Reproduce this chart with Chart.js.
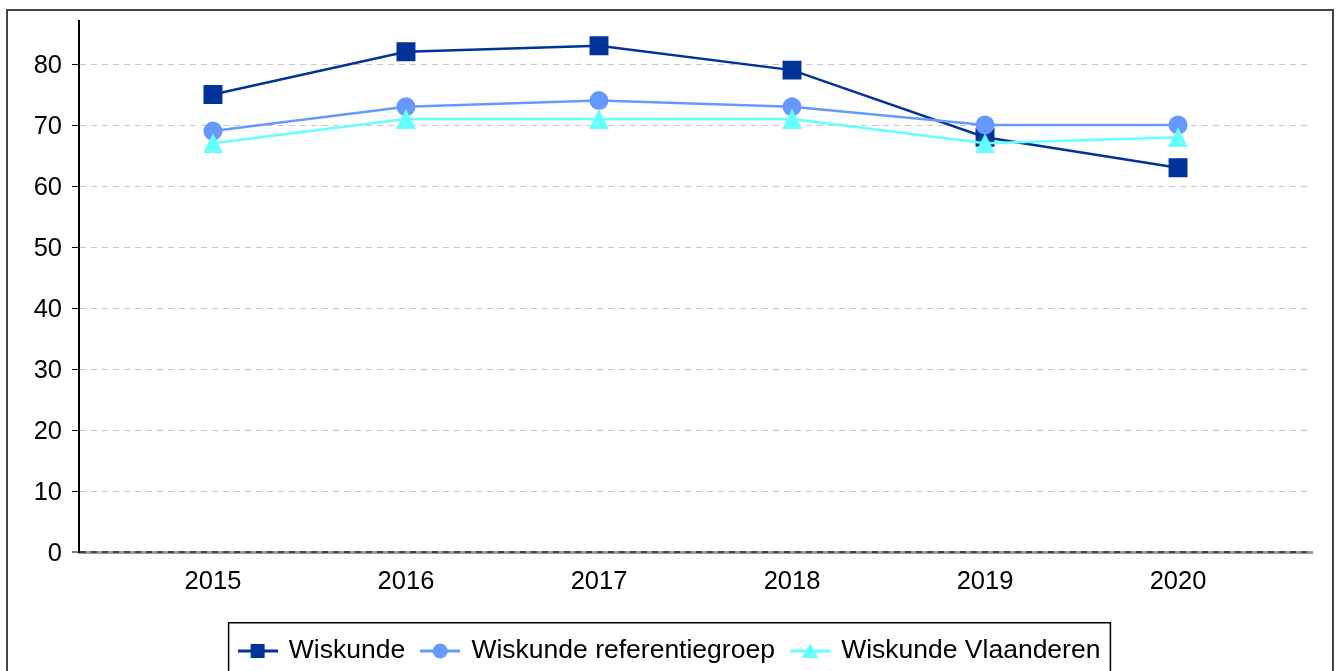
<!DOCTYPE html>
<html>
<head>
<meta charset="utf-8">
<script src="https://cdn.jsdelivr.net/npm/chart.js@4/dist/chart.umd.min.js"></script>
<style>
  html, body { margin: 0; padding: 0; background: #fff; }
  canvas { display: block; }
</style>
</head>
<body>
<canvas id="chart" width="1340" height="671"></canvas>
<script>
// data
const years = [2015, 2016, 2017, 2018, 2019, 2020];
const wiskunde = [75, 82, 83, 79, 68, 63];
const referentiegroep = [69, 73, 74, 73, 70, 70];
const vlaanderen = [67, 71, 71, 71, 67, 68];
const yTicks = [0, 10, 20, 30, 40, 50, 60, 70, 80];
const seriesNames = ['Wiskunde', 'Wiskunde referentiegroep', 'Wiskunde Vlaanderen'];

const colors = ['#003399', '#6699ff', '#66ffff'];
const FONT = '"Liberation Sans", Arial, sans-serif';

// small canvas for the triangle so it sits centred on the point
function triangle(w, h, color) {
    const c = document.createElement('canvas');
    c.width = w; c.height = h;
    const g = c.getContext('2d');
    g.fillStyle = color;
    g.beginPath();
    g.moveTo(w / 2, 0);
    g.lineTo(w, h);
    g.lineTo(0, h);
    g.closePath();
    g.fill();
    return c;
}

// legend icons: line with the marker on it
function legendIcon(kind, color) {
    const c = document.createElement('canvas');
    c.width = 40; c.height = 20;
    const g = c.getContext('2d');
    g.strokeStyle = color;
    g.fillStyle = color;
    g.lineWidth = 3;
    g.beginPath();
    g.moveTo(0, 10);
    g.lineTo(40, 10);
    g.stroke();
    g.beginPath();
    if (kind === 'rect') {
        g.rect(13, 3, 14, 14);
    } else if (kind === 'circle') {
        g.arc(20, 10, 7.5, 0, Math.PI * 2);
    } else {
        g.moveTo(20, 2);
        g.lineTo(28.5, 17);
        g.lineTo(11.5, 17);
        g.closePath();
    }
    g.fill();
    return c;
}

const icons = [
    legendIcon('rect', colors[0]),
    legendIcon('circle', colors[1]),
    legendIcon('triangle', colors[2])
];

function points(values) {
    return values.map((v, i) => ({ x: years[i], y: v }));
}

const frame = {
    id: 'frame',
    beforeInit(chart) {
        const fit = chart.legend.fit;
        chart.legend.fit = function () {
            fit.call(this);
            this.height -= 3.25;
        };
    },
    afterDraw(chart) {
        const ctx = chart.ctx;
        ctx.save();
        // outer border
        ctx.strokeStyle = '#444';
        ctx.lineWidth = 2;
        ctx.strokeRect(7, 10, 1326, 700);
        // legend box
        const hb = chart.legend.legendHitBoxes;
        if (hb && hb.length) {
            const last = hb[hb.length - 1];
            const left = hb[0].left - 11;
            const right = last.left + last.width + 10;
            const top = hb[0].top - 15;
            ctx.strokeStyle = '#000';
            ctx.lineWidth = 1.5;
            ctx.strokeRect(left, top, right - left, 100);
        }
        ctx.restore();
    }
};

new Chart(document.getElementById('chart'), {
    type: 'line',
    data: {
        datasets: [
            {
                label: seriesNames[0],
                data: points(wiskunde),
                borderColor: colors[0],
                backgroundColor: colors[0],
                borderWidth: 2.5,
                pointStyle: 'rect',
                pointRadius: 13.4,
                pointBorderWidth: 0,
                order: 3
            },
            {
                label: seriesNames[1],
                data: points(referentiegroep),
                borderColor: colors[1],
                backgroundColor: colors[1],
                borderWidth: 2.5,
                pointStyle: 'circle',
                pointRadius: 9.5,
                pointBorderWidth: 0,
                order: 2
            },
            {
                label: seriesNames[2],
                data: points(vlaanderen),
                borderColor: colors[2],
                backgroundColor: colors[2],
                borderWidth: 2.5,
                pointStyle: triangle(20, 20, colors[2]),
                pointRadius: 10,
                pointBorderWidth: 0,
                order: 1
            }
        ]
    },
    options: {
        responsive: false,
        animation: false,
        layout: { padding: { top: 20.7, left: 0, right: 0, bottom: 0 } },
        scales: {
            x: {
                type: 'linear',
                min: 2014.306,
                max: 2020.694,
                afterBuildTicks: s => { s.ticks = years.map(v => ({ value: v })); },
                afterFit: s => { s.height = 68.75; },
                grid: { display: false, drawTicks: false },
                border: { display: true, color: '#999', width: 3, z: -1 },
                ticks: {
                    padding: 15,
                    color: '#000',
                    font: { family: FONT, size: 25.5 },
                    callback: v => String(v)
                }
            },
            y: {
                min: 0,
                max: 87.1,
                afterBuildTicks: s => { s.ticks = yTicks.map(v => ({ value: v })); },
                afterFit: s => { s.width = 79; s.paddingTop = 0; s.paddingBottom = 0; },
                grid: {
                    color: c => (c.tick && c.tick.value === 0) ? '#444' : '#c8c8c8',
                    lineWidth: c => (c.tick && c.tick.value === 0) ? 2 : 1,
                    tickLength: 7,
                    tickColor: '#000',
                    tickWidth: 1,
                    tickBorderDash: []
                },
                border: { display: true, color: '#000', width: 2, dash: [6, 5] },
                ticks: {
                    padding: 10,
                    labelOffset: 2,
                    color: '#000',
                    font: { family: FONT, size: 25.5 }
                }
            },
            yRight: {
                type: 'linear',
                position: 'right',
                display: true,
                grid: { display: false, drawTicks: false },
                border: { display: false },
                ticks: { display: false },
                afterFit: s => { s.width = 28; }
            }
        },
        plugins: {
            tooltip: { enabled: false },
            legend: {
                position: 'bottom',
                labels: {
                    usePointStyle: true,
                    pointStyleWidth: 36,
                    padding: 17,
                    color: '#000',
                    font: { family: FONT, size: 26.5 },
                    sort: (a, b) => a.datasetIndex - b.datasetIndex,
                    generateLabels: chart => {
                        const items = Chart.defaults.plugins.legend.labels.generateLabels(chart);
                        items.forEach(it => { it.pointStyle = icons[it.datasetIndex]; it.lineWidth = 0; });
                        return items;
                    }
                }
            }
        }
    },
    plugins: [frame]
});
</script>
</body>
</html>
